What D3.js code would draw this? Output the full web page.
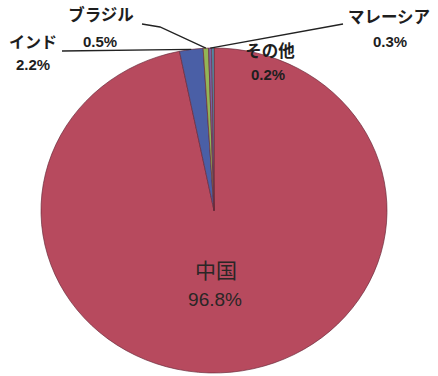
<!DOCTYPE html>
<html>
<head>
<meta charset="utf-8">
<script src="https://cdn.jsdelivr.net/npm/d3@7"></script>
<style>
  body { margin: 0; background: #fff; }
  text { font-family: "Liberation Sans", "Noto Sans CJK JP", sans-serif; }
</style>
</head>
<body>
<script>
// 国別シェア
var categories = ["中国", "インド", "ブラジル", "マレーシア", "その他"];
var values = [96.8, 2.2, 0.5, 0.3, 0.2];
var valueLabels = ["96.8%", "2.2%", "0.5%", "0.3%", "0.2%"];
var colors = ["#b74a5e", "#4a5fa6", "#93b556", "#7a62a4", "#4aa6c2"];

var W = 438, H = 376;
var cx = 214, cy = 210.5, rx = 173, ry = 162.5;

var svg = d3.select("body").append("svg")
    .attr("width", W)
    .attr("height", H)
    .attr("viewBox", "0 0 " + W + " " + H);

var pie = d3.pie().sort(null).value(function(d){ return d; });
var arcs = pie(values);
var arc = d3.arc().innerRadius(0).outerRadius(rx);

var g = svg.append("g")
    .attr("transform", "translate(" + cx + "," + cy + ") scale(1," + (ry / rx) + ")");

g.selectAll("path")
    .data(arcs)
    .enter().append("path")
    .attr("d", arc)
    .attr("fill", function(d, i){ return colors[i]; })
    .attr("stroke", "#6a2a3a")
    .attr("stroke-width", 0.7);

// 円周上の点（楕円）
function edgePoint(a, k) {
    return [cx + rx * k * Math.sin(a), cy - ry * k * Math.cos(a)];
}
function mid(d) { return (d.startAngle + d.endAngle) / 2; }

// ラベル配置 [名前x, 名前y, 値x, 値y, 名前サイズ, 値サイズ, 太さ, 引出線の始点]
var labelPos = [
    [216, 278, 215, 306, 21, 19, 400, null],
    [33, 48, 33, 70, 16, 15, 700, [[62, 51]]],
    [101, 21, 100, 47, 16.5, 15, 700, [[142, 24], [160, 27]]],
    [389, 23, 390, 47, 16.5, 15, 700, [[343, 24]]],
    [270, 57, 268, 80, 16.5, 15, 700, null]
];

var lineG = svg.append("g");
arcs.forEach(function(d, i){
    var lp = labelPos[i];
    if (!lp[7]) return;
    var pts = lp[7].slice();
    pts.push(edgePoint(mid(d), 1.0));
    lineG.append("path")
        .attr("d", d3.line()(pts))
        .attr("fill", "none")
        .attr("stroke", "#222")
        .attr("stroke-width", 1.3);
});

var labG = svg.append("g");
arcs.forEach(function(d, i){
    var lp = labelPos[i];
    var col = i === 0 ? "#2a2626" : "#1e1e1e";
    labG.append("text")
        .attr("x", lp[0]).attr("y", lp[1])
        .attr("text-anchor", "middle")
        .attr("font-size", lp[4])
        .attr("font-weight", lp[6])
        .attr("fill", col)
        .text(categories[i]);
    labG.append("text")
        .attr("x", lp[2]).attr("y", lp[3])
        .attr("text-anchor", "middle")
        .attr("font-size", lp[5])
        .attr("font-weight", lp[6])
        .attr("fill", col)
        .text(valueLabels[i]);
});
</script>
</body>
</html>
